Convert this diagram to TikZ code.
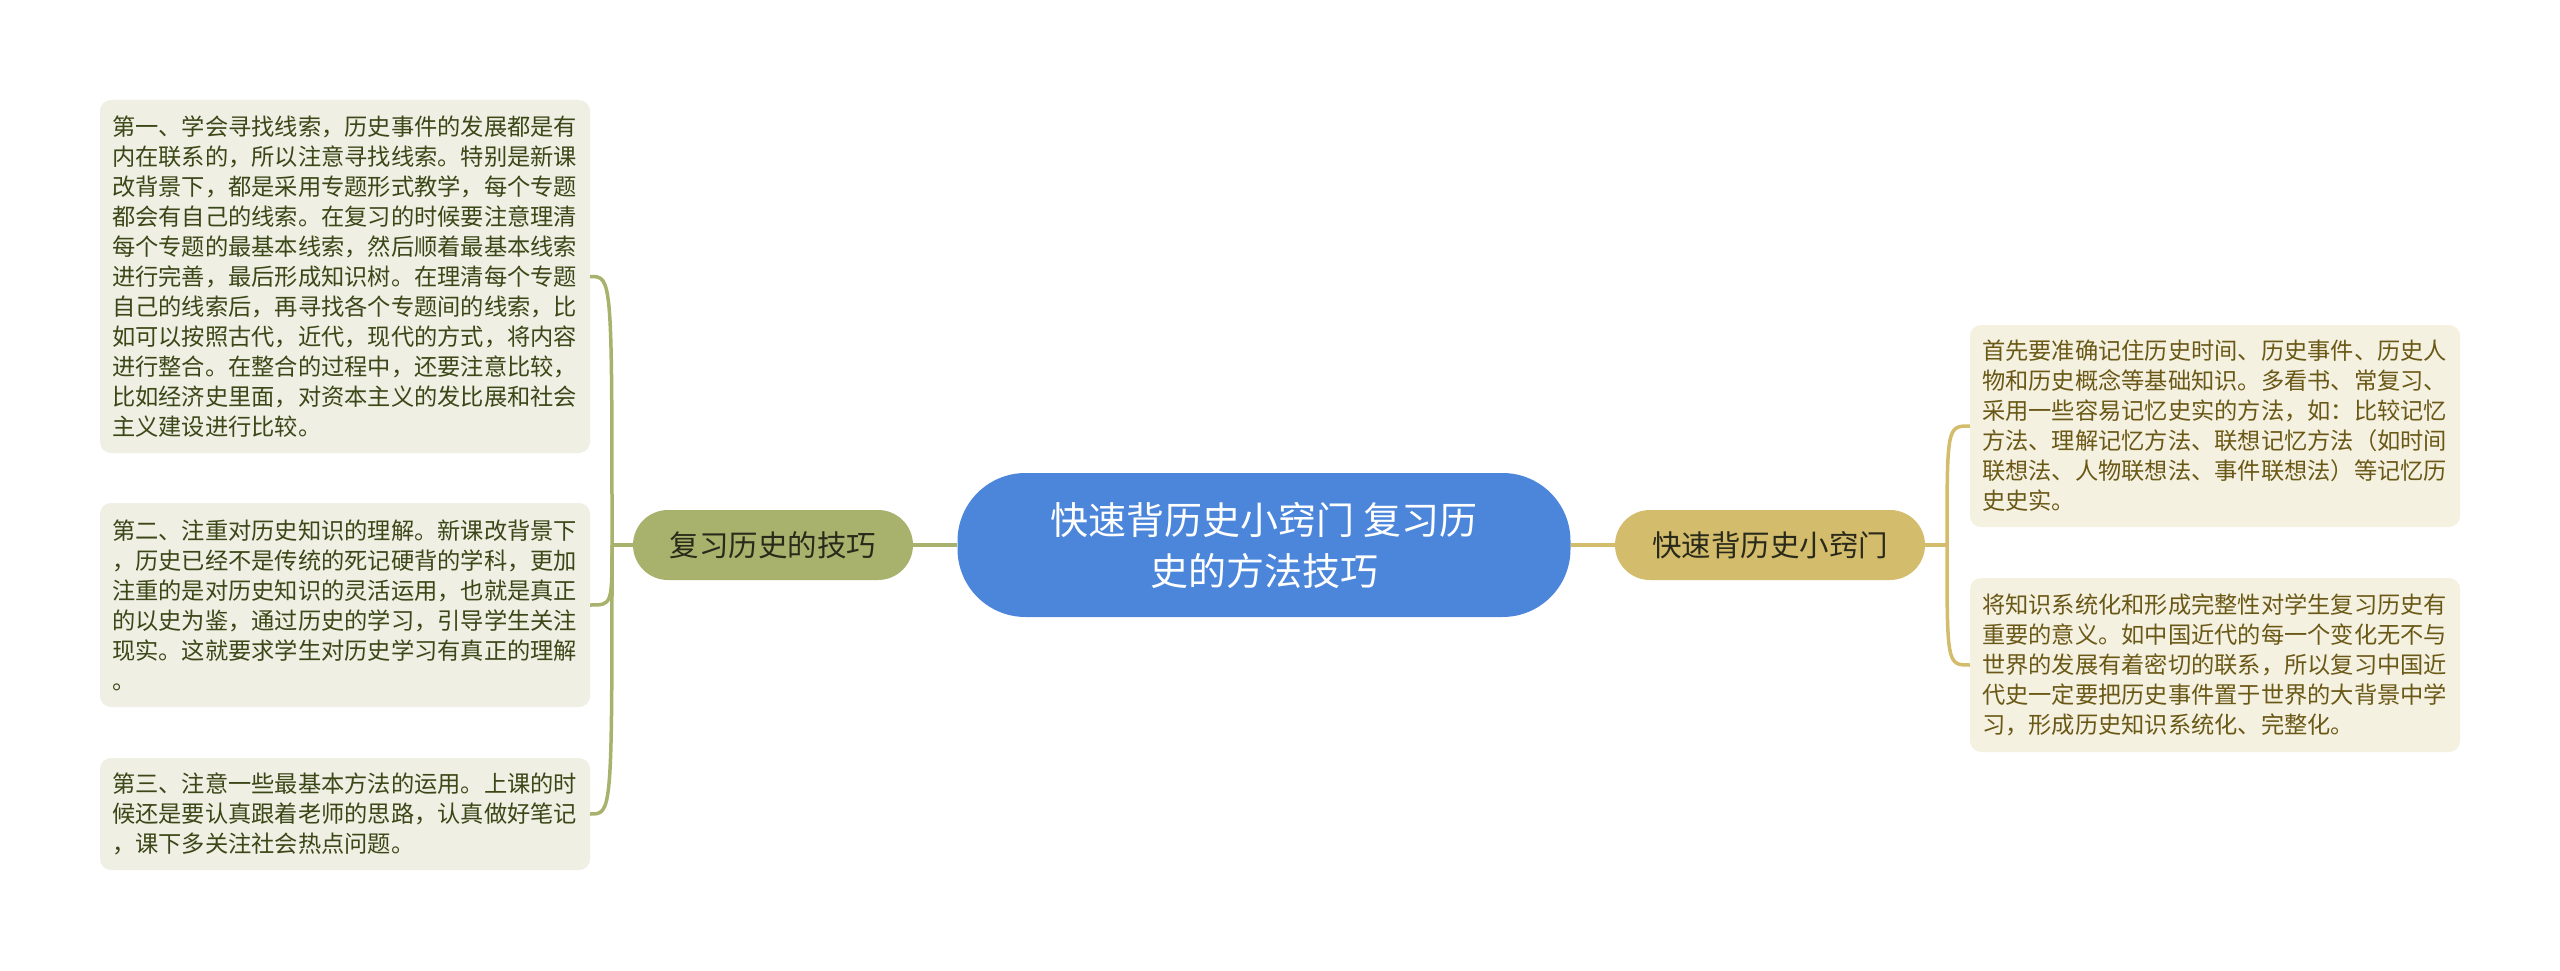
\documentclass[tikz,border=0pt]{standalone}
\usepackage{fontspec}
\setmainfont{Noto Sans CJK SC}
\usetikzlibrary{calc}
\definecolor{cblue}{HTML}{4C86DB}
\definecolor{olive}{HTML}{A8B26C}
\definecolor{gold}{HTML}{D3BC6C}
\definecolor{lfill}{HTML}{EFEFE3}
\definecolor{rfill}{HTML}{F5F1E1}
\definecolor{ltext}{HTML}{3C4718}
\definecolor{rtext}{HTML}{6A5816}
\definecolor{btext}{HTML}{2A2A1A}
\tikzset{
  centernode/.style={fill=cblue, draw=none, rounded corners=68pt, minimum width=613pt, minimum height=144pt,
    text=white, align=center, font=\fontsize{38}{51}\selectfont, inner sep=0pt},
  branchL/.style={fill=olive, rounded corners=35pt, minimum width=280pt, minimum height=70pt,
    text=btext, font=\fontsize{29.5}{36}\selectfont, inner sep=0pt},
  branchR/.style={fill=gold, rounded corners=35pt, minimum width=310pt, minimum height=70pt,
    text=btext, font=\fontsize{29.5}{36}\selectfont, inner sep=0pt},
  leafL/.style={fill=lfill, rounded corners=11pt, minimum width=490pt, text width=466pt, align=left,
    inner xsep=12pt, inner ysep=0pt, text=ltext, font=\fontsize{23.25}{30}\selectfont},
  leafR/.style={fill=rfill, rounded corners=11pt, minimum width=490pt, text width=466pt, align=left,
    inner xsep=12pt, inner ysep=0pt, text=rtext, font=\fontsize{23.25}{30}\selectfont},
  lconn/.style={draw=olive, line width=3.5pt},
  rconn/.style={draw=gold, line width=3.5pt},
}
\begin{document}
\begin{tikzpicture}[x=1pt,y=-1pt]
\useasboundingbox (0,0) rectangle (2560,971);
\fill[white] (0,0) rectangle (2560,971);

\node[centernode] (c) at (1264,545) {快速背历史小窍门 复习历\\史的方法技巧};
\node[branchL] (lb) at (773,545) {复习历史的技巧};
\node[branchR] (rb) at (1770,545) {快速背历史小窍门};

\node[leafL, minimum height=353pt] (b1) at (345,276.5) {第一、学会寻找线索，历史事件的发展都是有\\内在联系的，所以注意寻找线索。特别是新课\\改背景下，都是采用专题形式教学，每个专题\\都会有自己的线索。在复习的时候要注意理清\\每个专题的最基本线索，然后顺着最基本线索\\进行完善，最后形成知识树。在理清每个专题\\自己的线索后，再寻找各个专题间的线索，比\\如可以按照古代，近代，现代的方式，将内容\\进行整合。在整合的过程中，还要注意比较，\\比如经济史里面，对资本主义的发比展和社会\\主义建设进行比较。};
\node[leafL, minimum height=204pt] (b2) at (345,605) {第二、注重对历史知识的理解。新课改背景下\\，历史已经不是传统的死记硬背的学科，更加\\注重的是对历史知识的灵活运用，也就是真正\\的以史为鉴，通过历史的学习，引导学生关注\\现实。这就要求学生对历史学习有真正的理解\\。};
\node[leafL, minimum height=112pt] (b3) at (345,814) {第三、注意一些最基本方法的运用。上课的时\\候还是要认真跟着老师的思路，认真做好笔记\\，课下多关注社会热点问题。};

\node[leafR, minimum height=202pt] (r1) at (2215,426) {首先要准确记住历史时间、历史事件、历史人\\物和历史概念等基础知识。多看书、常复习、\\采用一些容易记忆史实的方法，如：比较记忆\\方法、理解记忆方法、联想记忆方法（如时间\\联想法、人物联想法、事件联想法）等记忆历\\史史实。};
\node[leafR, minimum height=174pt] (r2) at (2215,665) {将知识系统化和形成完整性对学生复习历史有\\重要的意义。如中国近代的每一个变化无不与\\世界的发展有着密切的联系，所以复习中国近\\代史一定要把历史事件置于世界的大背景中学\\习，形成历史知识系统化、完整化。};

\coordinate (J1) at (612,545);
\coordinate (J2) at (1947,545);

\draw[lconn] (c.west) -- (lb.east);
\draw[lconn] (lb.west) -- (J1);
\draw[lconn] (J1) .. controls (J1 |- b1.east) and (J1 |- b1.east) .. (b1.east);
\draw[lconn] (J1) .. controls (J1 |- b2.east) and (J1 |- b2.east) .. (b2.east);
\draw[lconn] (J1) .. controls (J1 |- b3.east) and (J1 |- b3.east) .. (b3.east);

\draw[rconn] (c.east) -- (rb.west);
\draw[rconn] (rb.east) -- (J2);
\draw[rconn] (J2) .. controls (J2 |- r1.west) and (J2 |- r1.west) .. (r1.west);
\draw[rconn] (J2) .. controls (J2 |- r2.west) and (J2 |- r2.west) .. (r2.west);
\end{tikzpicture}
\end{document}
